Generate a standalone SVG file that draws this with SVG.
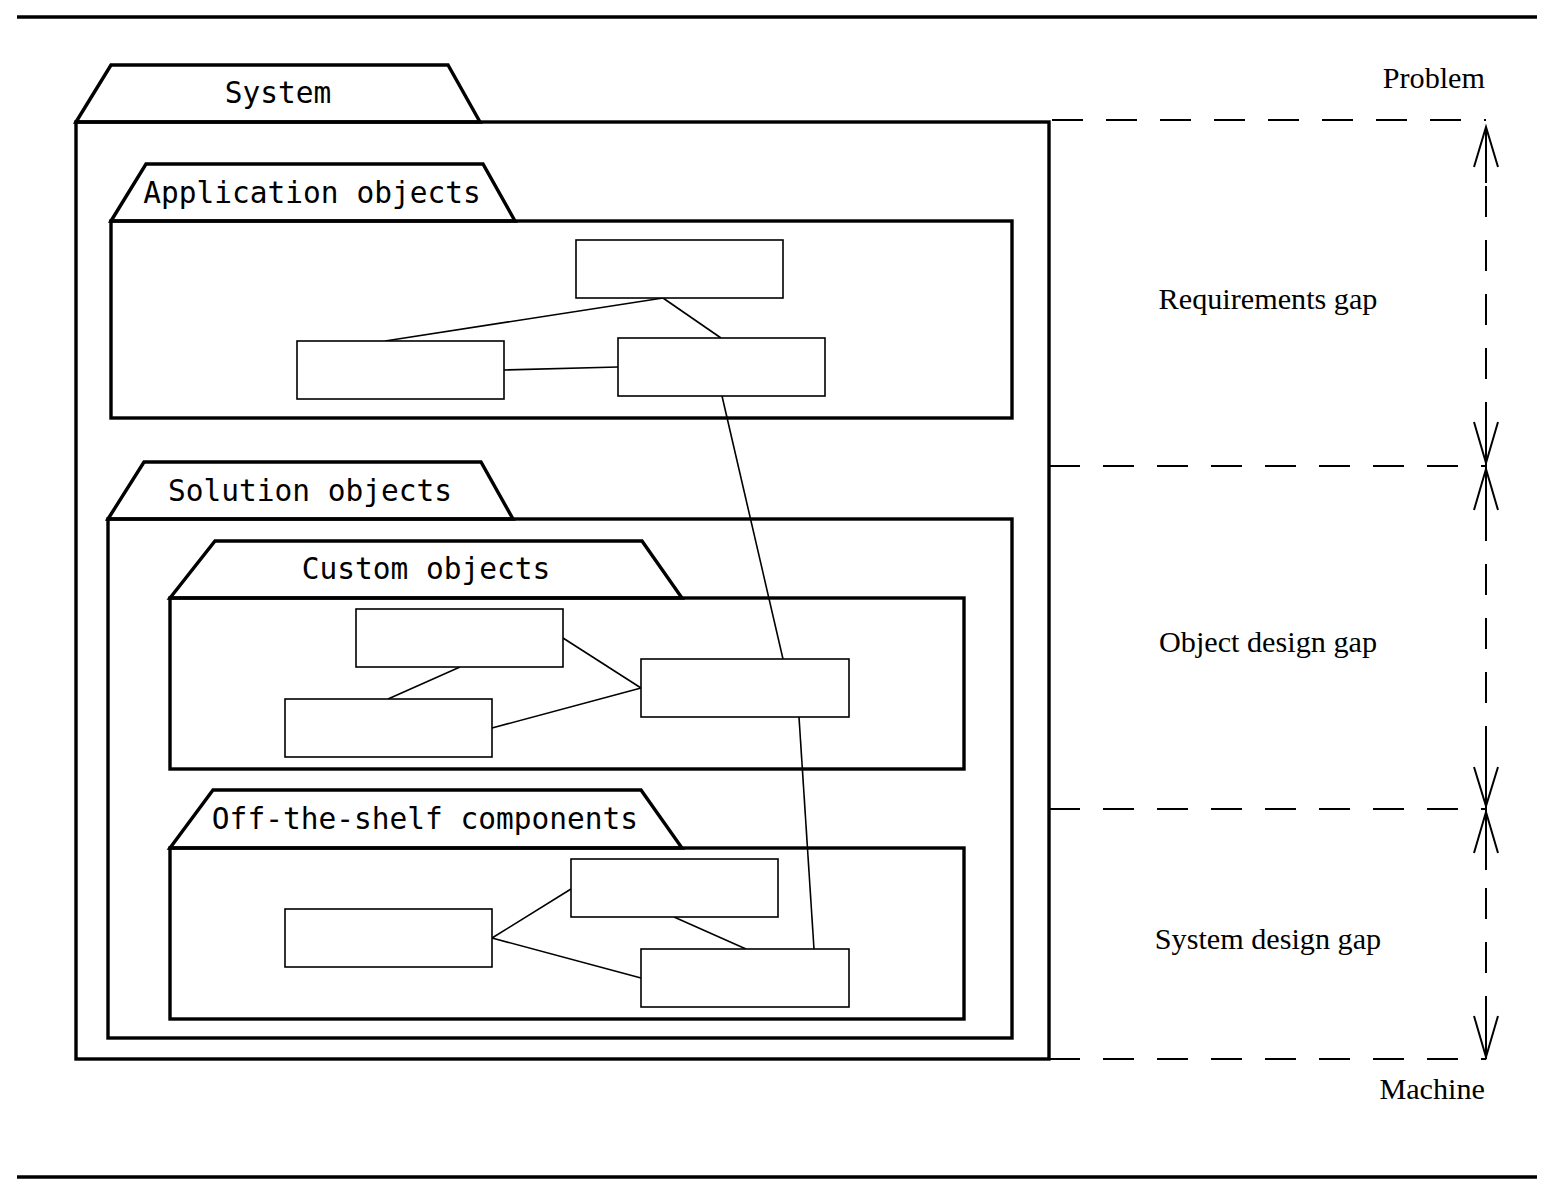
<svg xmlns="http://www.w3.org/2000/svg" width="1546" height="1196" viewBox="0 0 1546 1196">
<style>
.pkg{fill:none;stroke:#000;stroke-width:3.4;stroke-linejoin:miter}
.box{fill:#fff;stroke:#000;stroke-width:1.6}
.ln{fill:none;stroke:#000;stroke-width:1.6}
.dash{fill:none;stroke:#000;stroke-width:2;stroke-dasharray:31 23}
.arr{fill:none;stroke:#000;stroke-width:2}
.mono{font-family:"DejaVu Sans Mono",monospace;font-size:29.5px;fill:#000;text-anchor:middle}
.serif{font-family:"Liberation Serif",serif;font-size:30.2px;fill:#000}
</style>
<rect width="1546" height="1196" fill="#fff"/>
<line x1="17" y1="17" x2="1537" y2="17" stroke="#000" stroke-width="3.4"/>
<line x1="17" y1="1177" x2="1537" y2="1177" stroke="#000" stroke-width="3.4"/>

<g id="system">
<polygon class="pkg" points="76,122 111,65 448,65 480,122"/>
<rect class="pkg" x="76" y="122" width="973" height="937"/>
<text class="mono" x="278" y="103">System</text>
</g>

<g id="application-objects">
<polygon class="pkg" points="111,221 146,164 483,164 515,221"/>
<rect class="pkg" x="111" y="221" width="901" height="197"/>
<text class="mono" x="312" y="203">Application objects</text>
</g>

<g id="solution-objects">
<polygon class="pkg" points="108,519 144,462 481,462 513,519"/>
<rect class="pkg" x="108" y="519" width="904" height="519"/>
<text class="mono" x="310" y="501">Solution objects</text>
</g>

<g id="custom-objects">
<polygon class="pkg" points="170,598 215,541 642,541 682,598"/>
<rect class="pkg" x="170" y="598" width="794" height="171"/>
<text class="mono" x="426" y="579">Custom objects</text>
</g>

<g id="off-the-shelf">
<polygon class="pkg" points="170,848 213,790 641,790 682,848"/>
<rect class="pkg" x="170" y="848" width="794" height="171"/>
<text class="mono" x="425" y="829">Off-the-shelf components</text>
</g>

<g id="connectors">
<line class="ln" x1="663" y1="298" x2="385" y2="341"/>
<line class="ln" x1="663" y1="298" x2="721" y2="338"/>
<line class="ln" x1="504" y1="370" x2="618" y2="367"/>
<line class="ln" x1="722" y1="396" x2="783" y2="659"/>
<line class="ln" x1="460" y1="667" x2="388" y2="699"/>
<line class="ln" x1="563" y1="638" x2="641" y2="688"/>
<line class="ln" x1="492" y1="728" x2="641" y2="688"/>
<line class="ln" x1="799" y1="717" x2="814" y2="949"/>
<line class="ln" x1="492" y1="938" x2="571" y2="889"/>
<line class="ln" x1="492" y1="938" x2="641" y2="978"/>
<line class="ln" x1="674" y1="917" x2="746" y2="949"/>
</g>

<g id="app-boxes">
<rect id="a1" class="box" x="576" y="240" width="207" height="58"/>
<rect id="a2" class="box" x="297" y="341" width="207" height="58"/>
<rect id="a3" class="box" x="618" y="338" width="207" height="58"/>
</g>
<g id="custom-boxes">
<rect id="c1" class="box" x="356" y="609" width="207" height="58"/>
<rect id="c2" class="box" x="285" y="699" width="207" height="58"/>
<rect id="c3" class="box" x="641" y="659" width="208" height="58"/>
</g>
<g id="ots-boxes">
<rect id="o1" class="box" x="571" y="859" width="207" height="58"/>
<rect id="o2" class="box" x="285" y="909" width="207" height="58"/>
<rect id="o3" class="box" x="641" y="949" width="208" height="58"/>
</g>

<g id="gaps">
<line class="dash" x1="1052" y1="120" x2="1486" y2="120"/>
<line class="dash" x1="1049" y1="466" x2="1486" y2="466"/>
<line class="dash" x1="1049" y1="809" x2="1486" y2="809"/>
<line class="dash" x1="1049" y1="1059" x2="1486" y2="1059"/>
<line class="dash" x1="1486" y1="120" x2="1486" y2="1059" stroke-dashoffset="-12"/>
<line class="arr" x1="1486" y1="127" x2="1486" y2="183"/>
<polyline class="arr" points="1474,167 1486,127 1498,167"/>
<line class="arr" x1="1486" y1="406" x2="1486" y2="526"/>
<polyline class="arr" points="1474,422 1486,463 1498,422"/>
<polyline class="arr" points="1474,510 1486,469 1498,510"/>
<line class="arr" x1="1486" y1="750" x2="1486" y2="870"/>
<polyline class="arr" points="1474,767 1486,806 1498,767"/>
<polyline class="arr" points="1474,853 1486,812 1498,853"/>
<line class="arr" x1="1486" y1="1000" x2="1486" y2="1057"/>
<polyline class="arr" points="1474,1016 1486,1057 1498,1016"/>
<text class="serif" x="1485" y="88" text-anchor="end">Problem</text>
<text class="serif" x="1268" y="309" text-anchor="middle">Requirements gap</text>
<text class="serif" x="1268" y="652" text-anchor="middle">Object design gap</text>
<text class="serif" x="1268" y="949" text-anchor="middle">System design gap</text>
<text class="serif" x="1485" y="1099" text-anchor="end">Machine</text>
</g>
</svg>
